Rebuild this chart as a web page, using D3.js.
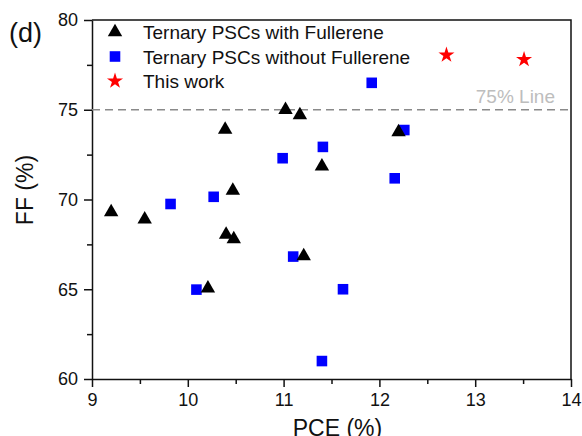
<!DOCTYPE html>
<html>
<head>
<meta charset="utf-8">
<script src="https://cdn.jsdelivr.net/npm/d3@7.9.0/dist/d3.min.js"></script>
<style>
  body { margin: 0; background: #fff; }
  svg text { font-family: "Liberation Sans", Arial, sans-serif; }
</style>
</head>
<body>
<svg width="582" height="436"></svg>
<script>
// ternary PSCs with fullerene (black triangles)
const withPCE = [9.2, 9.55, 10.21, 10.39, 10.47, 10.4, 10.48, 11.02, 11.17, 11.21, 11.4, 12.2];
const withFF  = [69.3, 68.9, 65.05, 73.9, 70.5, 68.05, 67.8, 75.0, 74.7, 66.85, 71.85, 73.75];
// ternary PSCs without fullerene (blue squares)
const withoutPCE = [9.82, 10.09, 10.27, 10.99, 11.1, 11.4, 11.41, 11.62, 11.92, 12.16, 12.26];
const withoutFF  = [69.75, 64.98, 70.15, 72.3, 66.82, 61.0, 72.93, 65.0, 76.5, 71.18, 73.87];
// this work (red stars)
const thisPCE = [12.7, 13.51];
const thisFF  = [78.05, 77.8];

const xTicks = [9, 10, 11, 12, 13, 14];
const yTicks = [60, 65, 70, 75, 80];
const legendLabels = ["Ternary PSCs with Fullerene", "Ternary PSCs without Fullerene", "This work"];

const svg = d3.select("svg");
const margin = {top: 20, right: 11, bottom: 57, left: 92};
const W = 582, H = 436;

const x = d3.scaleLinear().domain([9, 14]).range([margin.left, W - margin.right]);
const y = d3.scaleLinear().domain([60, 80]).range([H - margin.bottom, margin.top]);

// minor ticks
svg.append("g")
    .attr("transform", `translate(0,${y(60)})`)
    .call(d3.axisBottom(x).tickValues(d3.range(9.5, 14, 1)).tickSize(5).tickFormat("").tickSizeOuter(0))
    .call(g => g.select(".domain").remove());
svg.append("g")
    .attr("transform", `translate(${x(9)},0)`)
    .call(d3.axisLeft(y).tickValues(d3.range(62.5, 80, 5)).tickSize(5).tickFormat("").tickSizeOuter(0))
    .call(g => g.select(".domain").remove());

// major axes
let xAxis = svg.append("g")
    .attr("transform", `translate(0,${y(60)})`)
    .call(d3.axisBottom(x).tickValues(xTicks).tickFormat(d3.format("d")).tickSize(8).tickPadding(6).tickSizeOuter(0));
let yAxis = svg.append("g")
    .attr("transform", `translate(${x(9)},0)`)
    .call(d3.axisLeft(y).tickValues(yTicks).tickFormat(d3.format("d")).tickSize(8).tickPadding(6).tickSizeOuter(0));

[xAxis, yAxis].forEach(g => {
    g.selectAll("text").attr("font-size", 18).attr("fill", "#111").attr("font-family", null);
    g.selectAll("line, path").attr("stroke", "#111").attr("stroke-width", 1.5);
});
svg.selectAll("g line").attr("stroke", "#111").attr("stroke-width", 1.5);

// top and right frame
svg.append("path")
    .attr("d", `M${x(9)},${y(80)}H${x(14)}V${y(60)}`)
    .attr("fill", "none").attr("stroke", "#111").attr("stroke-width", 1.5);

// 75% line
svg.append("line")
    .attr("x1", x(9)).attr("x2", x(14))
    .attr("y1", y(75)).attr("y2", y(75))
    .attr("stroke", "#8a8a8a").attr("stroke-width", 1.3)
    .attr("stroke-dasharray", "8,5");
svg.append("text")
    .attr("x", 555).attr("y", y(75) - 7)
    .attr("text-anchor", "end")
    .attr("font-size", 19).attr("fill", "#bdbdbd")
    .text("75% Line");

// markers
const tri = d3.symbol().type(d3.symbolTriangle).size(90);
const sq = d3.symbol().type(d3.symbolSquare).size(112);
const star = d3.symbol().type(d3.symbolStar).size(80);

svg.append("g").selectAll("path")
    .data(d3.zip(withoutPCE, withoutFF))
    .join("path")
    .attr("d", sq())
    .attr("transform", d => `translate(${x(d[0])},${y(d[1])})`)
    .attr("fill", "#0000ff");

svg.append("g").selectAll("path")
    .data(d3.zip(withPCE, withFF))
    .join("path")
    .attr("d", tri())
    .attr("transform", d => `translate(${x(d[0])},${y(d[1])})`)
    .attr("fill", "#000");

svg.append("g").selectAll("path")
    .data(d3.zip(thisPCE, thisFF))
    .join("path")
    .attr("d", star())
    .attr("transform", d => `translate(${x(d[0])},${y(d[1])})`)
    .attr("fill", "#ff0000");

// legend
const legendShapes = [[tri, "#000"], [sq, "#0000ff"], [star, "#ff0000"]];
legendLabels.forEach((label, i) => {
    let cy = 32 + i * 24.5;
    svg.append("path")
        .attr("d", legendShapes[i][0]())
        .attr("transform", `translate(115,${cy})`)
        .attr("fill", legendShapes[i][1]);
    svg.append("text")
        .attr("x", 143).attr("y", cy + 7)
        .attr("font-size", 19).attr("fill", "#111")
        .text(label);
});

// axis titles and panel label
svg.append("text")
    .attr("x", (x(9) + x(14)) / 2 + 6).attr("y", 436)
    .attr("text-anchor", "middle")
    .attr("font-size", 23).attr("fill", "#111")
    .text("PCE (%)");
svg.append("text")
    .attr("transform", `translate(33,190) rotate(-90)`)
    .attr("text-anchor", "middle")
    .attr("font-size", 23).attr("fill", "#111")
    .text("FF (%)");
svg.append("text")
    .attr("x", 9).attr("y", 42)
    .attr("font-size", 27).attr("fill", "#111")
    .text("(d)");
</script>
</body>
</html>
